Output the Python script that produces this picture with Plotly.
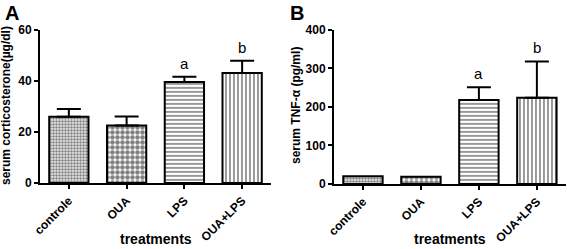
import plotly.graph_objects as go

categories = ["controle", "OUA", "LPS", "OUA+LPS"]
cort_mean = [26, 22.5, 39.6, 43.1]
cort_err = [3.0, 3.6, 2.0, 4.8]
tnf_mean = [20, 19, 218, 224]
tnf_err = [0, 0, 33, 94]
letters = ["", "", "a", "b"]

pat_shapes = [".", ".", "-", "|"]
pat_sizes = [3, 5, 4, 4]
pat_sol = [0.6, 0.65, 0.4, 0.4]

FONT = "Liberation Sans, Arial, sans-serif"

fig = go.Figure()


def add_panel(mean, err, xa, ya):
    for i, c in enumerate(categories):
        fig.add_trace(go.Bar(
            x=[c], y=[mean[i]], xaxis=xa, yaxis=ya, width=0.68,
            marker=dict(color="white", line=dict(color="black", width=2),
                        pattern=dict(shape=pat_shapes[i], size=pat_sizes[i],
                                     solidity=pat_sol[i], fgcolor="black",
                                     bgcolor="white", fillmode="overlay")),
            error_y=dict(type="data", symmetric=False, array=[err[i]],
                         arrayminus=[0], color="black", thickness=2, width=12,
                         visible=err[i] > 0),
            showlegend=False, hoverinfo="skip"))
        if letters[i]:
            fig.add_annotation(x=c, y=mean[i] + err[i], xref=xa, yref=ya,
                               text=letters[i], showarrow=False,
                               yanchor="bottom", yshift=3,
                               font=dict(family=FONT, size=15, color="black"))


add_panel(cort_mean, cort_err, "x", "y")
add_panel(tnf_mean, tnf_err, "x2", "y2")

axis_common = dict(showline=True, linecolor="black", linewidth=2,
                   ticks="outside", tickcolor="black", tickwidth=2, ticklen=4,
                   showgrid=False, zeroline=False, automargin=False,
                   tickfont=dict(family=FONT, size=12, color="black", weight="bold"))
xcommon = dict(axis_common, type="category", range=[-0.5, 3.5], tickangle=-45)

W, H = 567, 249

fig.update_layout(
    width=W, height=H, margin=dict(l=0, r=0, t=0, b=0, autoexpand=False),
    plot_bgcolor="white", paper_bgcolor="white", bargap=0.3,
    xaxis=dict(xcommon, domain=[0.0705, 0.478], anchor="y"),
    xaxis2=dict(xcommon, domain=[0.589, 0.998], anchor="y2"),
    yaxis=dict(axis_common, domain=[0.265, 0.88], range=[0, 60], tickvals=[0, 20, 40, 60],
               anchor="x"),
    yaxis2=dict(axis_common, domain=[0.261, 0.88], range=[0, 400], tickvals=[0, 100, 200, 300, 400],
                anchor="x2"),
)

tfont = dict(family=FONT, size=12, color="black", weight="bold")
# y-axis titles
fig.add_annotation(x=6 / W, y=1 - 106 / H, xref="paper", yref="paper",
                   text="serum corticosterone(µg/dl)", textangle=-90, showarrow=False,
                   xanchor="center", yanchor="middle", font=tfont)
fig.add_annotation(x=296 / W, y=1 - 106 / H, xref="paper", yref="paper",
                   text="serum TNF-α (pg/ml)", textangle=-90, showarrow=False,
                   xanchor="center", yanchor="middle", font=tfont)
# x-axis titles
xfont = dict(family=FONT, size=14, color="black", weight="bold")
fig.add_annotation(x=(40 + 271) / 2 / W, y=1 - 239 / H, xref="paper", yref="paper",
                   text="treatments", showarrow=False, xanchor="center", yanchor="middle",
                   font=xfont)
fig.add_annotation(x=(334 + 566) / 2 / W, y=1 - 239 / H, xref="paper", yref="paper",
                   text="treatments", showarrow=False, xanchor="center", yanchor="middle",
                   font=xfont)

fig.add_annotation(x=0.005, y=1.0, xref="paper", yref="paper", text="A", showarrow=False,
                   xanchor="left", yanchor="top",
                   font=dict(family=FONT, size=20, color="black", weight="bold"))
fig.add_annotation(x=0.508, y=1.0, xref="paper", yref="paper", text="B", showarrow=False,
                   xanchor="left", yanchor="top",
                   font=dict(family=FONT, size=20, color="black", weight="bold"))

fig.write_html("out.html", config={"displayModeBar": False},
               post_script="document.body.style.margin='0';document.body.style.padding='0';")
